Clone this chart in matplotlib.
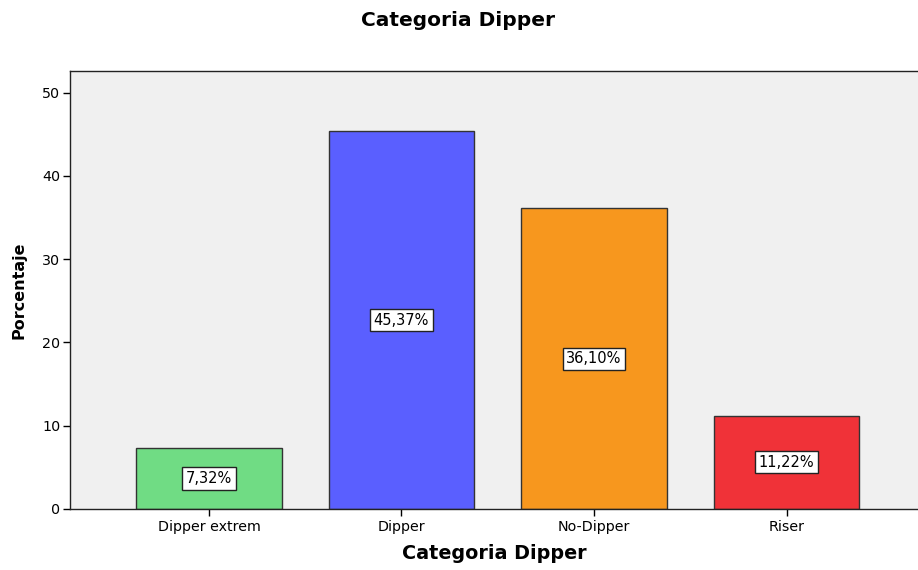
import matplotlib
matplotlib.use("Agg")
import matplotlib.pyplot as plt

categories = ["Dipper extrem", "Dipper", "No-Dipper", "Riser"]
percentages = [7.32, 45.37, 36.10, 11.22]
bar_colors = ["#70DC84", "#5A5FFF", "#F7971E", "#F03238"]
y_ticks = [0, 10, 20, 30, 40, 50]

plt.rcParams["font.family"] = ["DejaVu Sans"]

fig = plt.figure(figsize=(9.18, 5.70), dpi=100)
ax = fig.add_axes([70 / 918, 1 - 509 / 570, 848 / 918, (509 - 71) / 570])
ax.set_facecolor("#F0F0F0")

x = range(len(categories))
ax.bar(x, percentages, width=0.755, color=bar_colors, edgecolor="#333333",
       linewidth=1.0, zorder=2)

for xi, v in zip(x, percentages):
    label = f"{v:.2f}%".replace(".", ",")
    ax.text(xi, v / 2, label, ha="center", va="center", fontsize=10.5, color="black",
            bbox=dict(boxstyle="square,pad=0.25", facecolor="white",
                      edgecolor="#222222", linewidth=1.0), zorder=3)

ax.set_xlim(-0.722, 3.683)
ax.set_ylim(0, 52.6)
ax.set_yticks(y_ticks)
ax.set_xticks(list(x))
ax.set_xticklabels(categories, fontsize=10.3)
ax.tick_params(axis="y", labelsize=10.3, length=5, width=1, direction="out", pad=2)
ax.tick_params(axis="x", length=5, width=1, direction="out", pad=3)

for side in ["left", "bottom", "top"]:
    ax.spines[side].set_color("#222222")
    ax.spines[side].set_linewidth(1.0)
ax.spines["right"].set_visible(False)

ax.set_xlabel("Categoria Dipper", fontsize=13.8, fontweight="bold", labelpad=7)
ax.set_ylabel("Porcentaje", fontsize=11.5, fontweight="bold", labelpad=11)
fig.text(458 / 918, 1 - 20 / 570, "Categoria Dipper", ha="center", va="center",
         fontsize=14.5, fontweight="bold")

fig.savefig("out.png", dpi=100, facecolor="white")
